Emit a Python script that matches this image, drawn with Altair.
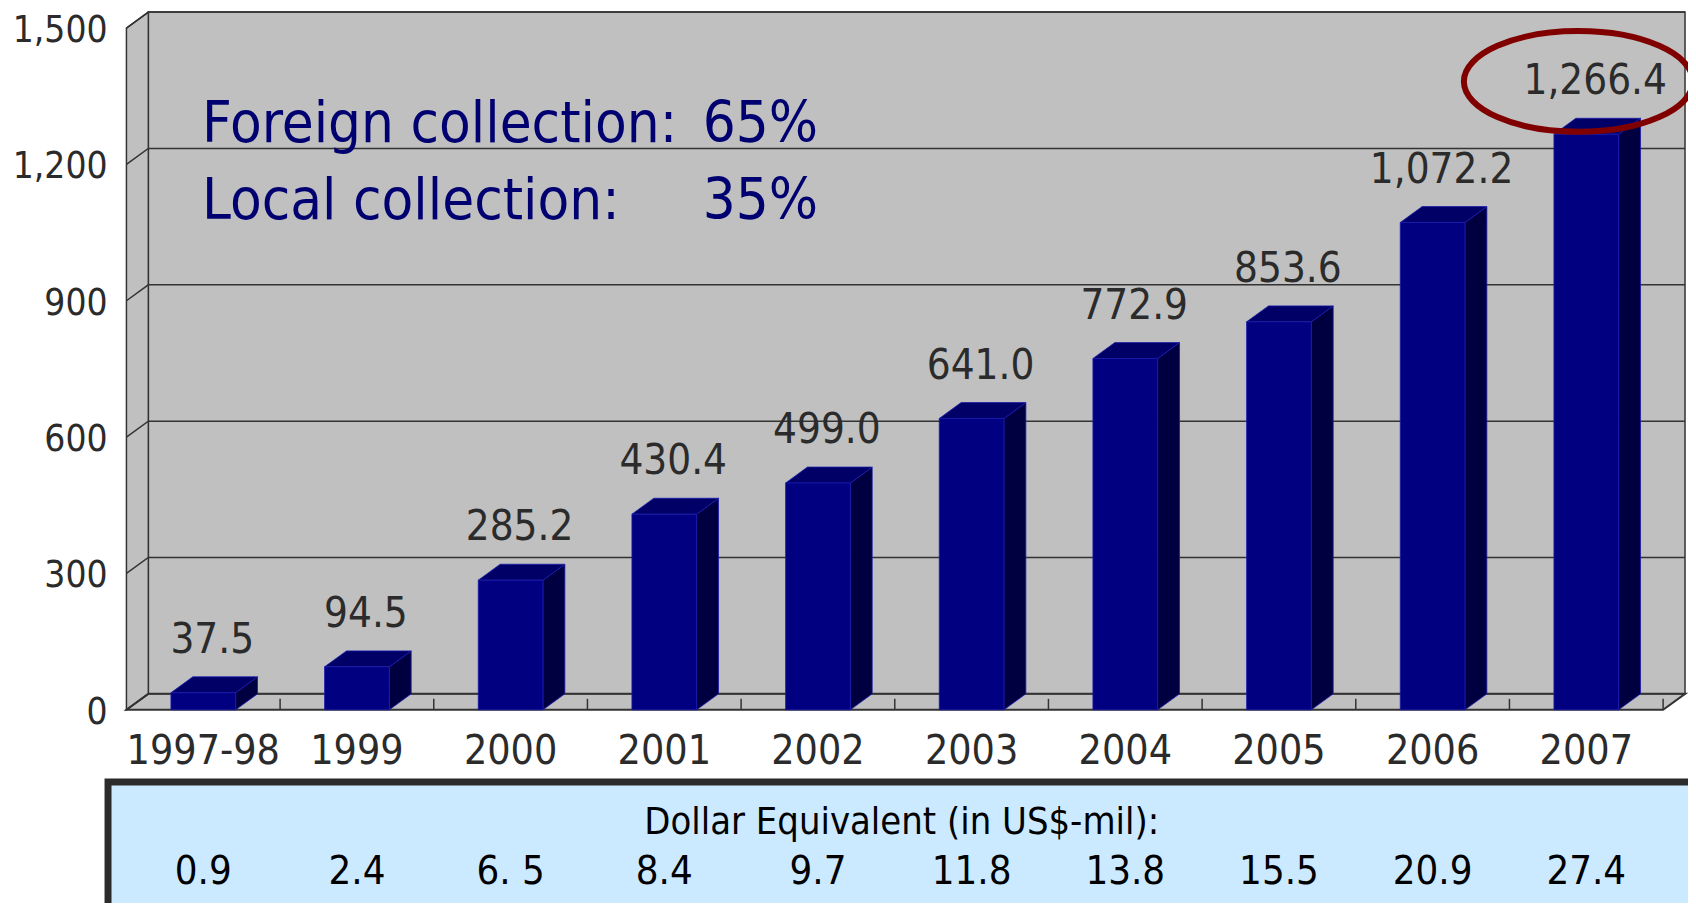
import altair as alt
import pandas as pd

# ---------------- data ----------------
categories = ["1997-98", "1999", "2000", "2001", "2002", "2003", "2004", "2005", "2006", "2007"]
values = [37.5, 94.5, 285.2, 430.4, 499.0, 641.0, 772.9, 853.6, 1072.2, 1266.4]
dollar_labels = ["0.9", "2.4", "6. 5", "8.4", "9.7", "11.8", "13.8", "15.5", "20.9", "27.4"]
y_ticks = [0, 300, 600, 900, 1200, 1500]
annotation_labels = ["Foreign collection:", "Local collection:"]
annotation_shares = ["65%", "35%"]
table_title = "Dollar Equivalent (in US$-mil):"
highlight_category = "2007"

# ---------------- geometry / style ----------------
W, H = 1566, 701
N = len(categories)
YMAX = 1500
DEPTH_XPX, DEPTH_YPX = 22, 16
UX = (W - DEPTH_XPX) / N            # px per category unit
UY = (H - DEPTH_YPX) / YMAX         # px per value unit
DX = DEPTH_XPX / UX
DY = DEPTH_YPX / UY
X1 = N + DX
Y1 = YMAX + DY
BAR_HALF = 32.5 / UX
TICK = 11 / UY

FONT = "Liberation Sans Narrow, DejaVu Sans Condensed, sans-serif"
TXT = "#2b2b2b"
EDGE = "#333333"
WALL = "#c0c0c0"

xs = alt.Scale(domain=[0, X1], nice=False, zero=False, padding=0)
ys = alt.Scale(domain=[0, Y1], nice=False, zero=False, padding=0)

# ---------------- derived tables ----------------
bars = pd.DataFrame({
    "cat": categories,
    "val": values,
    "dollar": dollar_labels,
    "center": [i + 0.5 for i in range(N)],
})
bars["left"] = bars["center"] - BAR_HALF
bars["right"] = bars["center"] + BAR_HALF
bars["zero"] = 0.0

side_rows, top_rows = [], []
for _, r in bars.iterrows():
    side_rows.append({"cat": r["cat"], "x": r["right"], "y": r["val"], "y2": 0.0})
    side_rows.append({"cat": r["cat"], "x": r["right"] + DX, "y": r["val"] + DY, "y2": DY})
    top_rows.append({"cat": r["cat"], "y": r["val"], "x": r["left"], "x2": r["right"]})
    top_rows.append({"cat": r["cat"], "y": r["val"] + DY, "x": r["left"] + DX, "x2": r["right"] + DX})
side = pd.DataFrame(side_rows)
top = pd.DataFrame(top_rows)

grid_rows = []
for g in y_ticks:
    grid_rows += [{"g": g, "x": 0.0, "y": g}, {"g": g, "x": DX, "y": g + DY}, {"g": g, "x": X1, "y": g + DY}]
grid = pd.DataFrame(grid_rows)

back = pd.DataFrame([{"x": DX, "x2": X1, "y": DY, "y2": Y1}])
leftwall = pd.DataFrame([{"x": 0.0, "y": 0.0, "y2": float(YMAX)}, {"x": DX, "y": DY, "y2": Y1}])
floor = pd.DataFrame([{"y": 0.0, "x": 0.0, "x2": float(N)}, {"y": DY, "x": DX, "x2": X1}])
ticks = pd.DataFrame({"x": [float(i) for i in range(1, N + 1)], "y": 0.0, "y2": TICK})
yticks_df = pd.DataFrame({"v": y_ticks})

NOAX = None

# ---------------- layers ----------------
back_l = alt.Chart(back).mark_rect(fill=WALL, stroke=EDGE, strokeWidth=1.5).encode(
    x=alt.X("x:Q", scale=xs, axis=NOAX), x2="x2:Q",
    y=alt.Y("y:Q", scale=ys, axis=NOAX), y2="y2:Q")

left_l = alt.Chart(leftwall).mark_area(orient="vertical", fill=WALL, stroke=EDGE, strokeWidth=1.5).encode(
    x=alt.X("x:Q", scale=xs, axis=NOAX),
    y=alt.Y("y:Q", scale=ys, axis=NOAX, stack=False), y2="y2:Q")

floor_l = alt.Chart(floor).mark_area(orient="horizontal", fill=WALL, stroke=EDGE, strokeWidth=2).encode(
    y=alt.Y("y:Q", scale=ys, axis=NOAX),
    x=alt.X("x:Q", scale=xs, axis=NOAX, stack=False), x2="x2:Q")

grid_l = alt.Chart(grid).mark_line(color=EDGE, strokeWidth=1.5).encode(
    x=alt.X("x:Q", scale=xs, axis=NOAX),
    y=alt.Y("y:Q", scale=ys, axis=NOAX),
    detail="g:N")

tick_l = alt.Chart(ticks).mark_rule(color=EDGE, strokeWidth=1.5).encode(
    x=alt.X("x:Q", scale=xs, axis=NOAX),
    y=alt.Y("y:Q", scale=ys, axis=NOAX), y2="y2:Q")

side_l = alt.Chart(side).mark_area(orient="vertical", fill="#000040", stroke="#1a1ab0", strokeWidth=0.8).encode(
    x=alt.X("x:Q", scale=xs, axis=NOAX),
    y=alt.Y("y:Q", scale=ys, axis=NOAX, stack=False), y2="y2:Q",
    detail="cat:N")

top_l = alt.Chart(top).mark_area(orient="horizontal", fill="#000066", stroke="#1a1ab0", strokeWidth=0.8).encode(
    y=alt.Y("y:Q", scale=ys, axis=NOAX),
    x=alt.X("x:Q", scale=xs, axis=NOAX, stack=False), x2="x2:Q",
    detail="cat:N")

front_l = alt.Chart(bars).mark_rect(fill="#000080", stroke="#1a1ab0", strokeWidth=0.8).encode(
    x=alt.X("left:Q", scale=xs, axis=NOAX), x2="right:Q",
    y=alt.Y("val:Q", scale=ys, axis=NOAX), y2="zero:Q")

# axis labels as text through the scales
ylab_l = alt.Chart(yticks_df).mark_text(align="right", baseline="middle", dy=3,
                                        fontSize=37, font=FONT, color=TXT).encode(
    x=alt.value(-19),
    y=alt.Y("v:Q", scale=ys, axis=NOAX),
    text=alt.Text("v:Q", format=","))

xlab_l = alt.Chart(bars).mark_text(align="center", baseline="middle",
                                   fontSize=41, font=FONT, color=TXT).encode(
    x=alt.X("center:Q", scale=xs, axis=NOAX),
    y=alt.value(743),
    text="cat:N")

vlabel_l = alt.Chart(bars).mark_text(dx=9, dy=-53, baseline="middle", align="center",
                                     fontSize=42, font=FONT, color=TXT).encode(
    x=alt.X("center:Q", scale=xs, axis=NOAX),
    y=alt.Y("val:Q", scale=ys, axis=NOAX),
    text=alt.Text("val:Q", format=",.1f"))

ellipse_path = "M -1 0 A 1 0.44 0 1 0 1 0 A 1 0.44 0 1 0 -1 0 Z"
ellipse_l = alt.Chart(bars).transform_filter(alt.datum.cat == highlight_category).mark_point(
    shape=ellipse_path, size=230 * 230, filled=False, stroke="#800000", strokeWidth=6,
    opacity=1, xOffset=-8, yOffset=-53).encode(
    x=alt.X("center:Q", scale=xs, axis=NOAX),
    y=alt.Y("val:Q", scale=ys, axis=NOAX))

ann_layers = []
ann_y = [131, 208]
for i in range(len(annotation_labels)):
    d = pd.DataFrame({"t": [annotation_labels[i]], "s": [annotation_shares[i]]})
    ann_layers.append(alt.Chart(d).mark_text(align="left", baseline="alphabetic", fontSize=58,
                                             font=FONT, color="#000070").encode(
        x=alt.value(76), y=alt.value(ann_y[i]), text="t:N"))
    ann_layers.append(alt.Chart(d).mark_text(align="left", baseline="alphabetic", fontSize=58,
                                             font=FONT, color="#000070").encode(
        x=alt.value(579), y=alt.value(ann_y[i]), text="s:N"))

box_l = alt.Chart(pd.DataFrame({"t": [table_title]})).mark_rect(
    fill="#cceaff", stroke="#2b2b2b", strokeWidth=7).encode(
    x=alt.value(-18.5), x2=alt.value(1620), y=alt.value(773.5), y2=alt.value(930))

box_title_l = alt.Chart(pd.DataFrame({"t": [table_title]})).mark_text(
    align="center", baseline="middle", fontSize=38, font=FONT, color="#000000").encode(
    x=alt.value(779), y=alt.value(815), text="t:N")

box_vals_l = alt.Chart(bars).mark_text(align="center", baseline="middle", fontSize=40,
                                       font=FONT, color="#000000").encode(
    x=alt.X("center:Q", scale=xs, axis=NOAX), y=alt.value(864), text="dollar:N")

chart = alt.layer(
    back_l, left_l, floor_l, grid_l, tick_l, side_l, top_l, front_l, ylab_l, xlab_l,
    vlabel_l, ellipse_l, *ann_layers, box_l, box_title_l, box_vals_l
).properties(
    width=W, height=H,
    autosize=alt.AutoSizeParams(type="none"),
    padding={"left": 119, "top": 2, "right": 3, "bottom": 192},
    background="white",
).configure_view(stroke=None)

chart.save("out.html", embed_options={"renderer": "svg", "actions": False})
